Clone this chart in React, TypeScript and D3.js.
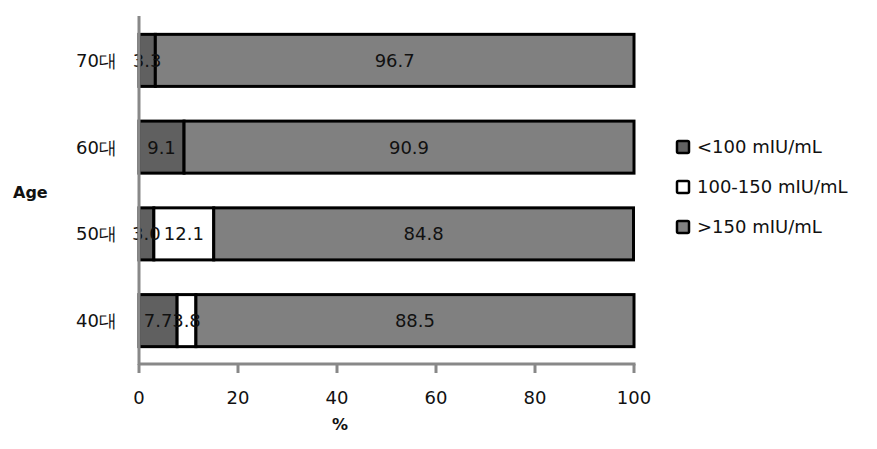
import React, { useEffect, useRef } from 'react';
import * as d3 from 'd3';

const ages = ['70대', '60대', '50대', '40대'];
const low = [3.3, 9.1, 3.0, 7.7];
const mid = [0, 0, 12.1, 3.8];
const high = [96.7, 90.9, 84.8, 88.5];
const seriesNames = ['<100 mIU/mL', '100-150 mIU/mL', '>150 mIU/mL'];
const seriesColors = ['#606060', '#ffffff', '#808080'];
const xTicks = [0, 20, 40, 60, 80, 100];

const FONT = '"DejaVu Sans", sans-serif';

const App: React.FC = () => {
  const svgRef = useRef<SVGSVGElement>(null);

  useEffect(() => {
    if (!svgRef.current) return;
    const svg = d3.select(svgRef.current);
    svg.selectAll('*').remove();

    const margin = { top: 17, left: 139, right: 243, bottom: 85 };
    const width = 877;
    const height = 449;

    const x = d3.scaleLinear().domain([0, 100]).range([margin.left, width - margin.right]);
    const y = d3.scaleBand().domain(ages).range([margin.top, height - margin.bottom]).paddingInner(0.4).paddingOuter(0.2);

    const table = ages.map((age, i) => ({ age, '0': low[i], '1': mid[i], '2': high[i] }));
    const layers = d3.stack<any>().keys(['0', '1', '2'])(table);

    // segments
    layers.forEach((layer, k) => {
      svg.append('g')
        .selectAll('rect')
        .data(layer.filter(d => d[1] - d[0] > 0))
        .enter()
        .append('rect')
        .attr('x', d => x(d[0]))
        .attr('y', d => y(d.data.age)!)
        .attr('width', d => x(d[1]) - x(d[0]))
        .attr('height', y.bandwidth())
        .attr('fill', seriesColors[k])
        .attr('stroke', '#000')
        .attr('stroke-width', 3);
    });

    // value labels
    layers.forEach(layer => {
      svg.append('g')
        .selectAll('text')
        .data(layer.filter(d => d[1] - d[0] > 0))
        .enter()
        .append('text')
        .attr('x', d => (x(d[0]) + x(d[1])) / 2)
        .attr('y', d => y(d.data.age)! + y.bandwidth() / 2)
        .attr('dy', '0.36em')
        .attr('text-anchor', 'middle')
        .attr('font-family', FONT)
        .attr('font-size', 18)
        .attr('fill', '#111')
        .text(d => (d[1] - d[0]).toFixed(1));
    });

    // axes
    const axisColor = '#888';
    const y0 = height - margin.bottom;
    svg.append('line')
      .attr('x1', margin.left).attr('x2', margin.left)
      .attr('y1', margin.top - 1).attr('y2', y0 + 1)
      .attr('stroke', axisColor).attr('stroke-width', 3);
    svg.append('line')
      .attr('x1', margin.left).attr('x2', x(100) + 1.5)
      .attr('y1', y0).attr('y2', y0)
      .attr('stroke', axisColor).attr('stroke-width', 3);
    svg.append('g')
      .selectAll('line')
      .data(xTicks)
      .enter()
      .append('line')
      .attr('x1', d => x(d)).attr('x2', d => x(d))
      .attr('y1', y0).attr('y2', y0 + 9)
      .attr('stroke', axisColor).attr('stroke-width', 3);
    svg.append('g')
      .selectAll('text')
      .data(xTicks)
      .enter()
      .append('text')
      .attr('x', d => x(d))
      .attr('y', 404)
      .attr('text-anchor', 'middle')
      .attr('font-family', FONT)
      .attr('font-size', 18)
      .attr('fill', '#111')
      .text(d => d);

    // y labels
    svg.append('g')
      .selectAll('text')
      .data(ages)
      .enter()
      .append('text')
      .attr('x', 117)
      .attr('y', d => y(d)! + y.bandwidth() / 2)
      .attr('dy', '0.36em')
      .attr('text-anchor', 'end')
      .attr('font-family', FONT)
      .attr('font-size', 18)
      .attr('fill', '#111')
      .text(d => d);

    svg.append('text')
      .attr('x', 340).attr('y', 430)
      .attr('text-anchor', 'middle')
      .attr('font-family', FONT)
      .attr('font-size', 16)
      .attr('font-weight', 'bold')
      .attr('fill', '#111')
      .text('%');

    svg.append('text')
      .attr('x', 13).attr('y', 198)
      .attr('font-family', FONT)
      .attr('font-size', 16)
      .attr('font-weight', 'bold')
      .attr('fill', '#111')
      .text('Age');

    // legend
    const legend = svg.append('g');
    seriesNames.forEach((name, i) => {
      const ly = 147 + i * 40;
      legend.append('rect')
        .attr('x', 677).attr('y', ly - 6)
        .attr('width', 12).attr('height', 12)
        .attr('rx', 1.5)
        .attr('fill', seriesColors[i])
        .attr('stroke', '#000')
        .attr('stroke-width', 2.5);
      legend.append('text')
        .attr('x', 697).attr('y', ly)
        .attr('dy', '0.36em')
        .attr('font-family', FONT)
        .attr('font-size', 18)
        .attr('fill', '#111')
        .text(name);
    });
  }, []);

  return <svg ref={svgRef} width={877} height={449} style={{ position: 'absolute', left: 0, top: 0, background: '#fff' }} />;
};

export default App;
